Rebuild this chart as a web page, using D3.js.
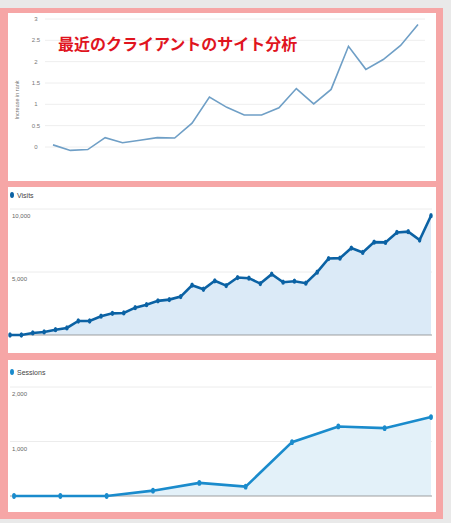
<!DOCTYPE html>
<html><head><meta charset="utf-8">
<script src="https://cdn.jsdelivr.net/npm/d3@7"></script>
<style>body{margin:0;background:#e9e9e9}</style>
</head><body>
<svg width="451" height="523"></svg>
<script>
// rank increase (top panel)
var rankTicks = [0, 0.5, 1, 1.5, 2, 2.5, 3];
var rankValues = [0.05, -0.08, -0.06, 0.22, 0.1, 0.16, 0.22, 0.21, 0.56, 1.17, 0.93,
                  0.75, 0.75, 0.92, 1.37, 1.01, 1.35, 2.36, 1.82, 2.05, 2.38, 2.87];
// visits (middle panel)
var visitTicks = [5000, 10000];
var visitValues = [0, 0, 160, 240, 420, 560, 1110, 1110, 1490, 1720, 1750, 2170, 2410,
                   2710, 2810, 3050, 3950, 3630, 4300, 3920, 4560, 4510, 4080, 4830, 4190,
                   4270, 4110, 4990, 6070, 6100, 6900, 6550, 7370, 7350, 8140, 8200, 7530, 9470];
// sessions (bottom panel)
var sessionTicks = [1000, 2000];
var sessionValues = [0, 0, 0, 98, 240, 172, 988, 1276, 1245, 1448];

var svg = d3.select("svg");

// pink frame + white panels
svg.append("rect").attr("x", 0).attr("y", 8).attr("width", 443).attr("height", 511).attr("fill", "#f6a6a6");
svg.append("rect").attr("x", 8).attr("y", 13).attr("width", 428).attr("height", 168).attr("fill", "#fff");
svg.append("rect").attr("x", 8).attr("y", 187).attr("width", 428).attr("height", 166).attr("fill", "#fff");
svg.append("rect").attr("x", 8).attr("y", 360).attr("width", 428).attr("height", 152).attr("fill", "#fff");

// ---- top panel
var x1 = d3.scaleLinear().domain([0, rankValues.length - 1]).range([53, 418]);
var y1 = d3.scaleLinear().domain([0, 3]).range([147, 19]);
var g1 = svg.append("g");
g1.selectAll("line.grid").data(rankTicks).enter().append("line")
    .attr("x1", 45).attr("x2", 425)
    .attr("y1", function(d) { return y1(d); }).attr("y2", function(d) { return y1(d); })
    .attr("stroke", "#eeeeee");
g1.selectAll("text.tick").data(rankTicks).enter().append("text")
    .attr("x", 36).attr("y", function(d) { return y1(d) + 2; })
    .attr("text-anchor", "middle").attr("font-size", 6).attr("fill", "#777")
    .attr("font-family", "Liberation Sans, sans-serif")
    .text(function(d) { return d; });
g1.append("text").attr("transform", "translate(19,100) rotate(-90)")
    .attr("text-anchor", "middle").attr("font-size", 5.5).attr("fill", "#777")
    .attr("font-family", "Liberation Sans, sans-serif").text("Increase in rank");
g1.append("path").datum(rankValues)
    .attr("fill", "none").attr("stroke", "#6f9fc6").attr("stroke-width", 1.6)
    .attr("d", d3.line().x(function(d, i) { return x1(i); }).y(function(d) { return y1(d); }));
g1.append("text").attr("x", 58).attr("y", 50)
    .attr("font-size", 16).attr("font-weight", "bold").attr("fill", "#e0141e")
    .attr("font-family", "Noto Sans CJK JP, sans-serif")
    .text("最近のクライアントのサイト分析");

// area panel helper
function areaPanel(values, ticks, top, bottom, x0, xEnd, label, color, fill, legendY, markerR) {
    var x = d3.scaleLinear().domain([0, values.length - 1]).range([x0, xEnd]);
    var y = d3.scaleLinear().domain([0, ticks[ticks.length - 1]]).range([bottom, top]);
    var g = svg.append("g");
    g.selectAll("line.grid").data(ticks).enter().append("line")
        .attr("x1", 10).attr("x2", 432)
        .attr("y1", function(d) { return y(d); }).attr("y2", function(d) { return y(d); })
        .attr("stroke", "#ececec");
    g.selectAll("text.tick").data(ticks).enter().append("text")
        .attr("x", 12).attr("y", function(d) { return y(d) + 9; })
        .attr("font-size", 6).attr("fill", "#666")
        .attr("font-family", "Liberation Sans Narrow, Liberation Sans, sans-serif")
        .text(function(d) { return d3.format(",")(d); });
    g.append("path").datum(values).attr("fill", fill)
        .attr("d", d3.area().x(function(d, i) { return x(i); }).y0(bottom).y1(function(d) { return y(d); }));
    g.append("line").attr("x1", 10).attr("x2", 432).attr("y1", bottom).attr("y2", bottom)
        .attr("stroke", "#888").attr("stroke-width", 0.8);
    g.append("path").datum(values).attr("fill", "none").attr("stroke", color).attr("stroke-width", 2.6)
        .attr("d", d3.line().x(function(d, i) { return x(i); }).y(function(d) { return y(d); }));
    g.selectAll("ellipse").data(values).enter().append("ellipse")
        .attr("cx", function(d, i) { return x(i); }).attr("cy", function(d) { return y(d); })
        .attr("rx", markerR * 0.8).attr("ry", markerR * 1.2).attr("fill", color);
    g.append("ellipse").attr("cx", 12).attr("cy", legendY).attr("rx", 2).attr("ry", 3).attr("fill", color);
    g.append("text").attr("x", 17).attr("y", legendY + 2.5)
        .attr("font-size", 7).attr("fill", "#444")
        .attr("font-family", "Liberation Sans Narrow, Liberation Sans, sans-serif").text(label);
}

areaPanel(visitValues, visitTicks, 209, 335, 10, 431, "Visits", "#0b62a4", "#dbeaf7", 195, 2.2);
areaPanel(sessionValues, sessionTicks, 387, 496, 14, 431, "Sessions", "#1a8bcc", "#e3f1f9", 372, 2.4);
</script>
</body></html>
